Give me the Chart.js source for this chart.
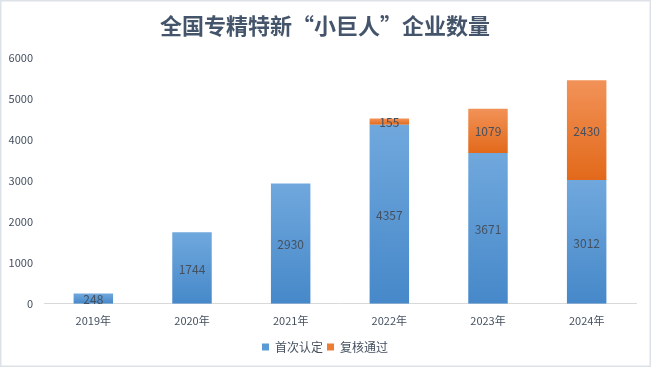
<!DOCTYPE html>
<html>
<head>
<meta charset="utf-8">
<script src="https://cdn.jsdelivr.net/npm/chart.js@4.4.1/dist/chart.umd.min.js"></script>
<style>
  html, body { margin: 0; padding: 0; background: #ffffff; }
  #wrap { width: 651px; height: 367px; position: relative; }
</style>
</head>
<body>
<div id="wrap"><canvas id="chart"></canvas></div>
<script>
// Données
const years = ['2019年', '2020年', '2021年', '2022年', '2023年', '2024年'];
const firstApproved = [248, 1744, 2930, 4357, 3671, 3012];
const reviewPassed = [null, null, null, 155, 1079, 2430];
const yTicks = [0, 1000, 2000, 3000, 4000, 5000, 6000];

const FONT = "'Noto Sans CJK SC', 'Noto Sans', sans-serif";
const TEXT = '#44505f';
const BLUE = '#5b9bd5';
const ORANGE = '#ed7d31';

// Dégradé vertical pour chaque segment
function gradientFor(top, bottom, solid) {
  return function(ctx) {
    const chart = ctx.chart;
    if (ctx.type !== 'data' || !chart.chartArea) return solid;
    const y = chart.scales.y;
    const i = ctx.dataIndex;
    const val = chart.data.datasets[ctx.datasetIndex].data[i] || 0;
    if (!val) return solid;
    let base = 0;
    for (let d = 0; d < ctx.datasetIndex; d++) {
      base += chart.data.datasets[d].data[i] || 0;
    }
    const g = chart.ctx.createLinearGradient(0, y.getPixelForValue(base + val), 0, y.getPixelForValue(base));
    g.addColorStop(0, top);
    g.addColorStop(1, bottom);
    return g;
  };
}

// Fond blanc et cadre
const framePlugin = {
  id: 'frame',
  beforeDraw(chart) {
    const c = chart.ctx;
    c.save();
    c.fillStyle = '#ffffff';
    c.fillRect(0, 0, chart.width, chart.height);
    c.strokeStyle = '#dde2e9';
    c.lineWidth = 3;
    c.strokeRect(0, 0, chart.width, chart.height);
    c.restore();
  }
};

// Étiquettes au centre des segments
const labelPlugin = {
  id: 'segLabels',
  afterDatasetsDraw(chart) {
    const c = chart.ctx;
    c.save();
    c.font = '12px ' + FONT;
    c.fillStyle = TEXT;
    c.textAlign = 'center';
    c.textBaseline = 'middle';
    chart.data.datasets.forEach((ds, di) => {
      const meta = chart.getDatasetMeta(di);
      meta.data.forEach((el, i) => {
        const v = ds.data[i];
        if (v === null || v === undefined) return;
        c.fillText(String(v), el.x, (el.y + el.base) / 2 + 1);
      });
    });
    c.restore();
  }
};

const solidColors = [BLUE, ORANGE];

new Chart(document.getElementById('chart'), {
  type: 'bar',
  data: {
    labels: years,
    datasets: [
      {
        label: '首次认定',
        data: firstApproved,
        backgroundColor: gradientFor('#70a8dd', '#4688c9', BLUE),
        borderWidth: 0
      },
      {
        label: '复核通过',
        data: reviewPassed,
        backgroundColor: gradientFor('#f29258', '#e2691a', ORANGE),
        borderWidth: 0
      }
    ]
  },
  options: {
    responsive: true,
    maintainAspectRatio: false,
    animation: false,
    layout: { padding: { top: 0, bottom: 4, left: 0, right: 1 } },
    datasets: {
      bar: { barPercentage: 0.4, categoryPercentage: 1 }
    },
    scales: {
      x: {
        stacked: true,
        grid: { display: false, drawTicks: false },
        border: { display: true, color: '#d9d9d9', width: 1 },
        ticks: { color: TEXT, font: { family: FONT, size: 11 }, padding: 10 }
      },
      y: {
        stacked: true,
        min: 0,
        max: 6000,
        afterFit(scale) { scale.width = 44; },
        afterBuildTicks(scale) { scale.ticks = yTicks.map(v => ({ value: v })); },
        grid: { display: false, drawTicks: false },
        border: { display: false },
        ticks: {
          color: TEXT,
          font: { family: FONT, size: 11 },
          padding: 11,
          callback: v => String(v)
        }
      },
      // axe vide à droite, juste pour centrer titre et légende
      yRight: {
        position: 'right',
        display: true,
        min: 0,
        max: 6000,
        afterFit(scale) { scale.width = 14; },
        grid: { display: false, drawTicks: false },
        border: { display: false },
        ticks: { display: false }
      }
    },
    plugins: {
      title: {
        display: true,
        text: '全国专精特新“小巨人”企业数量',
        color: '#44546a',
        font: { family: FONT, size: 22, weight: 'bold' },
        padding: { top: 12, bottom: 19 }
      },
      legend: {
        position: 'bottom',
        labels: {
          boxWidth: 7,
          boxHeight: 7,
          padding: 4,
          color: TEXT,
          font: { family: FONT, size: 12 },
          generateLabels(chart) {
            const items = Chart.defaults.plugins.legend.labels.generateLabels(chart);
            items.forEach((it, k) => {
              it.fillStyle = solidColors[k];
              it.strokeStyle = solidColors[k];
              it.lineWidth = 0;
            });
            return items;
          }
        }
      },
      tooltip: { enabled: false }
    }
  },
  plugins: [framePlugin, labelPlugin]
});
</script>
</body>
</html>
